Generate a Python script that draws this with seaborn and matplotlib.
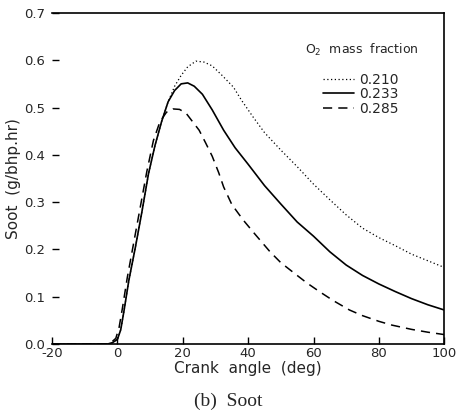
import numpy as np
import pandas as pd
import seaborn as sns
import matplotlib
matplotlib.use("Agg")
import matplotlib.pyplot as plt

# crank angle (deg) and soot (g/bhp.hr)
x_210 = [-20, -3, -1.5, 0, 1, 2, 3.5, 5.5, 7.5, 9.5, 11.5, 13.5, 15.5, 17.5, 19.5,
         21.5, 24, 26.5, 29, 32, 35.5, 38, 41.5, 45, 50, 55, 60, 65, 70, 75, 80,
         85, 90, 95, 100]
y_210 = [0, 0, 0.003, 0.01, 0.03, 0.07, 0.135, 0.205, 0.28, 0.36, 0.42, 0.47, 0.512,
         0.545, 0.568, 0.586, 0.598, 0.596, 0.588, 0.568, 0.543, 0.515, 0.48, 0.447,
         0.41, 0.375, 0.338, 0.305, 0.273, 0.245, 0.225, 0.208, 0.19, 0.176, 0.162]

x_233 = [-20, -3, -1.5, 0, 1, 2, 3.5, 5.5, 7.5, 9.5, 11.5, 13.5, 15.5, 17.5, 19.5,
         21.5, 23.5, 26, 29, 32.5, 36, 40, 45, 50, 55, 60, 65, 70, 75, 80, 85, 90,
         95, 100]
y_233 = [0, 0, 0.003, 0.01, 0.03, 0.07, 0.135, 0.205, 0.28, 0.36, 0.42, 0.47, 0.512,
         0.536, 0.55, 0.552, 0.545, 0.528, 0.495, 0.452, 0.415, 0.38, 0.335, 0.296,
         0.258, 0.228, 0.195, 0.167, 0.145, 0.127, 0.111, 0.096, 0.083, 0.072]

x_285 = [-20, -3.5, -2, -0.5, 0.5, 1.5, 3, 5, 7, 9, 11, 13, 15, 17, 19, 21, 23, 25,
         27, 29, 31, 32.5, 35, 38.5, 42, 46.7, 50, 55, 58, 62, 66, 71, 75, 80, 84,
         90, 95, 100]
y_285 = [0, 0, 0.003, 0.012, 0.035, 0.075, 0.14, 0.215, 0.29, 0.365, 0.43, 0.47, 0.49,
         0.497, 0.496, 0.488, 0.47, 0.452, 0.425, 0.397, 0.362, 0.332, 0.295, 0.262,
         0.233, 0.195, 0.172, 0.145, 0.129, 0.11, 0.092, 0.072, 0.06, 0.048, 0.04,
         0.031, 0.025, 0.02]

labels = ["0.210", "0.233", "0.285"]
x_ticks = [-20, 0, 20, 40, 60, 80, 100]
y_ticks = [0.0, 0.1, 0.2, 0.3, 0.4, 0.5, 0.6, 0.7]

sns.set_theme(style="white")
plt.rcParams["font.family"] = ["DejaVu Sans"]

fig = plt.figure(figsize=(4.57, 4.16), dpi=100)
ax = fig.add_axes([0.114, 0.173, 0.858, 0.796])

df_210 = pd.DataFrame({"angle": x_210, "soot": y_210})
df_233 = pd.DataFrame({"angle": x_233, "soot": y_233})
df_285 = pd.DataFrame({"angle": x_285, "soot": y_285})

sns.lineplot(x="angle", y="soot", data=df_210, ax=ax, color="black", lw=0.9,
             linestyle=(0, (1.0, 2.0)), label=labels[0], sort=False)
sns.lineplot(x="angle", y="soot", data=df_233, ax=ax, color="black", lw=1.2,
             linestyle="-", label=labels[1], sort=False)
sns.lineplot(x="angle", y="soot", data=df_285, ax=ax, color="black", lw=1.1,
             linestyle=(0, (6, 4)), label=labels[2], sort=False)

ax.set_xlim(-20, 100)
ax.set_ylim(0, 0.7)
ax.set_xticks(x_ticks)
ax.set_yticks(y_ticks)
ax.set_xticklabels([str(t) for t in x_ticks])
ax.set_yticklabels([f"{t:.1f}" for t in y_ticks])
ax.tick_params(direction="in", length=5, width=1, color="black", labelsize=9.5,
               bottom=True, left=True)
ax.tick_params(axis="y", pad=5)
ax.tick_params(axis="x", pad=2)
ax.set_xlabel("Crank  angle  (deg)", fontsize=11, labelpad=1)
ax.set_ylabel("Soot  (g/bhp.hr)", fontsize=11, labelpad=2)
for side in ["top", "right", "bottom"]:
    ax.spines[side].set_visible(True)
    ax.spines[side].set_color("black")
    ax.spines[side].set_linewidth(1.2)
ax.spines["left"].set_visible(False)

ax.text(0.935, 0.888, "O$_2$  mass  fraction", transform=ax.transAxes,
        ha="right", va="center", fontsize=9)
leg = ax.legend(loc="upper right", bbox_to_anchor=(0.905, 0.845), frameon=False,
                fontsize=10, handlelength=2.2, handletextpad=0.4,
                labelspacing=0.05, borderpad=0.1)

fig.text(0.5, 0.035, "(b)  Soot", ha="center", va="center", fontsize=14,
         family=["Liberation Serif", "DejaVu Serif"])

fig.savefig("out.png", dpi=100)
